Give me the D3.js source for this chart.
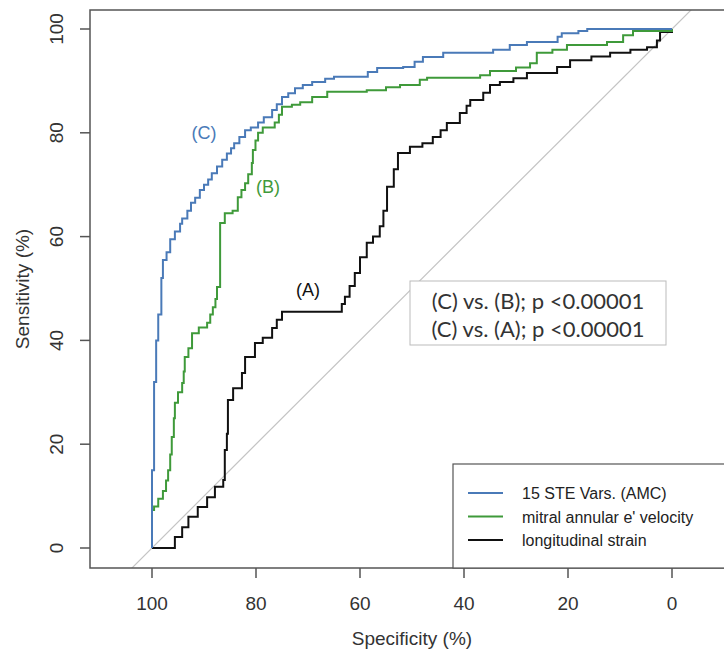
<!DOCTYPE html>
<html>
<head>
<meta charset="utf-8">
<script src="https://cdn.jsdelivr.net/npm/d3@7"></script>
<style>
  body { margin: 0; background: #fff; }
  svg { display: block; }
</style>
</head>
<body>
<div id="chart"></div>
<script>
// ROC points as [specificity %, sensitivity %]
const steVars = [
  [100,0],[100,15],[99.6,32],[99.2,40],[98.8,45],[98.2,52],[97.9,55.5],[97.2,57],[96.5,59.5],
  [95.6,61],[94.6,62.5],[94.2,63.5],[93.2,65],[92.5,66.5],[91.7,67.5],[90.8,69],[90,70],
  [89.2,71],[88.5,72.2],[87.5,73.5],[86.5,74.8],[85.6,76],[84.8,77],[84.2,78],[83.2,79.2],
  [82.1,80.5],[81,81],[79.6,82],[78.5,83],[76.9,84.4],[76,85.5],[75,86.9],[73.8,87.6],
  [72.5,88.6],[71,89.2],[69.2,89.8],[66.7,90.4],[65,90.8],[60,90.8],[58.5,91.7],[56.7,92.5],
  [51.7,92.7],[49.5,93.7],[47.9,94.6],[44,95.4],[37.5,95.4],[34.4,96],[31.2,96.9],[27.9,97.5],
  [23.1,97.5],[22,98.5],[21.2,99.2],[18,99.6],[16.3,100],[0,100]
];
const mitralVelocity = [
  [100,0],[100,7.3],[99.6,8],[98.8,9.5],[97.9,11],[97.3,13],[96.9,15],[96.5,18],[96.2,21.4],
  [95.8,25],[95.6,28],[95,30],[94.2,31.8],[93.9,34],[93.7,36.8],[93,38.5],[92.3,41.4],[91,42.5],
  [89.4,43.4],[88.8,45],[88.3,46.4],[87.8,48],[87.5,50.3],[86.9,53.6],[86.9,62.6],[86,64.5],
  [84.5,65],[83.5,67.6],[82.8,69],[82.1,70.3],[81.5,72],[80.8,74.2],[80.6,76.7],[80.1,78.5],
  [79.6,80],[78.7,81],[76.4,82],[75.6,83.5],[75,85],[73.1,85.4],[71.5,85.9],[69.2,86.9],
  [66.3,87.9],[58.7,88.2],[55,88.8],[52.3,89.2],[48.5,90.2],[47.1,90.6],[36.9,91.1],[35,91.9],
  [30,92.6],[27.3,93.4],[26,95.4],[23,96],[20.2,96.9],[12.5,97.5],[9.4,98.8],[7.5,99.6],[0,100]
];
const longStrain = [
  [100,0],[96.9,0],[95.6,2.1],[94.2,4],[93,6],[91.2,7.9],[89.4,9.8],[87.9,11.8],[86.3,13.1],
  [86,18.9],[85.6,22],[85.4,28.5],[84.4,30.8],[82.7,33.7],[82.1,36.8],[80.2,39.5],[78.7,40.5],
  [76.9,42.4],[76,44],[75,45.5],[64.2,45.5],[63.5,47],[62.9,48.4],[62,50.5],[61,53],[60,56],
  [58.7,58.8],[57.5,60],[56.2,62],[55.5,65],[54.8,69.6],[53.5,73],[52.7,76.1],[50.4,77.3],
  [48,78],[46,79.2],[44.5,80.5],[43.3,81.9],[40.8,83.8],[39.5,85.2],[38.8,86.3],[36.3,87.7],
  [35,89.2],[33.1,89.8],[30.5,90.5],[27.9,91.5],[22.1,92.7],[19.6,94],[15.5,94.7],[11.9,95.4],
  [8,96],[4.8,96.5],[2.9,97.8],[2.3,99.4],[0,100]
];

const seriesNames = ["15 STE Vars. (AMC)", "mitral annular e' velocity", "longitudinal strain"];
const seriesColors = ["#4a7ab8", "#3f9a3a", "#111111"];
const curveLabels = [
  { text: "(C)", spec: 90, sens: 80, color: "#4a7ab8" },
  { text: "(B)", spec: 77.7, sens: 69.6, color: "#3f9a3a" },
  { text: "(A)", spec: 70, sens: 49.7, color: "#111111" }
];
const pValueLines = ["(C) vs. (B); p <0.00001", "(C) vs. (A); p <0.00001"];
const tickValues = [100, 80, 60, 40, 20, 0];

const width = 724;
const height = 654;
const frame = { left: 90, top: 10, right: 734, bottom: 568 };

const x = d3.scaleLinear().domain([100, 0]).range([152, 672]);
const y = d3.scaleLinear().domain([0, 100]).range([548, 29]);

const svg = d3.select("#chart").append("svg")
  .attr("width", width)
  .attr("height", height)
  .style("font-family", "'Liberation Sans', Arial, sans-serif");

svg.append("clipPath").attr("id", "plot-clip")
  .append("rect")
  .attr("x", frame.left).attr("y", frame.top)
  .attr("width", frame.right - frame.left).attr("height", frame.bottom - frame.top);

const plot = svg.append("g").attr("clip-path", "url(#plot-clip)");

// chance diagonal
plot.append("line")
  .attr("x1", x(120)).attr("y1", y(-20))
  .attr("x2", x(-20)).attr("y2", y(120))
  .attr("stroke", "#c4c4c4")
  .attr("stroke-width", 1.2);

const line = d3.line()
  .x(d => x(d[0]))
  .y(d => y(d[1]))
  .curve(d3.curveStepAfter);

// draw black first so blue/green sit on top near the corner
const allSeries = [steVars, mitralVelocity, longStrain];
[2, 1, 0].forEach(i => {
  plot.append("path")
    .datum(allSeries[i])
    .attr("d", line)
    .attr("fill", "none")
    .attr("stroke", seriesColors[i])
    .attr("stroke-width", 2);
});

// plot frame (right side falls outside the picture)
svg.append("rect")
  .attr("x", frame.left).attr("y", frame.top)
  .attr("width", frame.right - frame.left).attr("height", frame.bottom - frame.top)
  .attr("fill", "none")
  .attr("stroke", "#555")
  .attr("stroke-width", 1.5);

// x axis ticks and labels
const xAxis = svg.append("g");
xAxis.selectAll("line")
  .data(tickValues)
  .join("line")
  .attr("x1", d => x(d)).attr("x2", d => x(d))
  .attr("y1", frame.bottom).attr("y2", frame.bottom + 10)
  .attr("stroke", "#555").attr("stroke-width", 1.5);
xAxis.selectAll("text")
  .data(tickValues)
  .join("text")
  .attr("x", d => x(d))
  .attr("y", 610)
  .attr("text-anchor", "middle")
  .style("font-size", "19px")
  .style("fill", "#333")
  .text(d => d);

// y axis ticks and rotated labels
const yAxis = svg.append("g");
yAxis.selectAll("line")
  .data(tickValues)
  .join("line")
  .attr("x1", frame.left - 10).attr("x2", frame.left)
  .attr("y1", d => y(d)).attr("y2", d => y(d))
  .attr("stroke", "#555").attr("stroke-width", 1.5);
yAxis.selectAll("text")
  .data(tickValues)
  .join("text")
  .attr("transform", d => `translate(63, ${y(d)}) rotate(-90)`)
  .attr("text-anchor", "middle")
  .style("font-size", "19px")
  .style("fill", "#333")
  .text(d => d);

// axis titles
svg.append("text")
  .attr("x", (152 + 672) / 2)
  .attr("y", 645)
  .attr("text-anchor", "middle")
  .style("font-size", "19px")
  .style("fill", "#333")
  .text("Specificity (%)");
svg.append("text")
  .attr("transform", `translate(29, ${(frame.top + frame.bottom) / 2}) rotate(-90)`)
  .attr("text-anchor", "middle")
  .style("font-size", "19px")
  .style("fill", "#333")
  .text("Sensitivity (%)");

// curve labels
svg.selectAll(".curve-label")
  .data(curveLabels)
  .join("text")
  .attr("class", "curve-label")
  .attr("x", d => x(d.spec))
  .attr("y", d => y(d.sens) + 6)
  .attr("text-anchor", "middle")
  .style("font-size", "18px")
  .style("fill", d => d.color)
  .text(d => d.text);

// p-value box
const pBox = svg.append("g");
pBox.append("rect")
  .attr("x", 410).attr("y", 281)
  .attr("width", 256).attr("height", 64)
  .attr("fill", "#fff")
  .attr("stroke", "#bbb")
  .attr("stroke-width", 1);
pBox.selectAll("text")
  .data(pValueLines)
  .join("text")
  .attr("x", 538)
  .attr("y", (_, i) => 309 + i * 28)
  .attr("text-anchor", "middle")
  .style("font-family", "Lato, 'Open Sans', sans-serif")
  .style("font-size", "22px")
  .style("fill", "#333")
  .text(d => d);

// legend
const legend = svg.append("g");
legend.append("rect")
  .attr("x", 453).attr("y", 464)
  .attr("width", 300).attr("height", frame.bottom - 464)
  .attr("fill", "#fff")
  .attr("stroke", "#555")
  .attr("stroke-width", 1.2);
legend.selectAll("line")
  .data(seriesNames)
  .join("line")
  .attr("x1", 468).attr("x2", 503)
  .attr("y1", (_, i) => 493 + i * 23.5)
  .attr("y2", (_, i) => 493 + i * 23.5)
  .attr("stroke", (_, i) => seriesColors[i])
  .attr("stroke-width", 2);
legend.selectAll("text")
  .data(seriesNames)
  .join("text")
  .attr("x", 522)
  .attr("y", (_, i) => 499 + i * 23.5)
  .style("font-size", "16px")
  .style("fill", "#222")
  .text(d => d);
</script>
</body>
</html>
